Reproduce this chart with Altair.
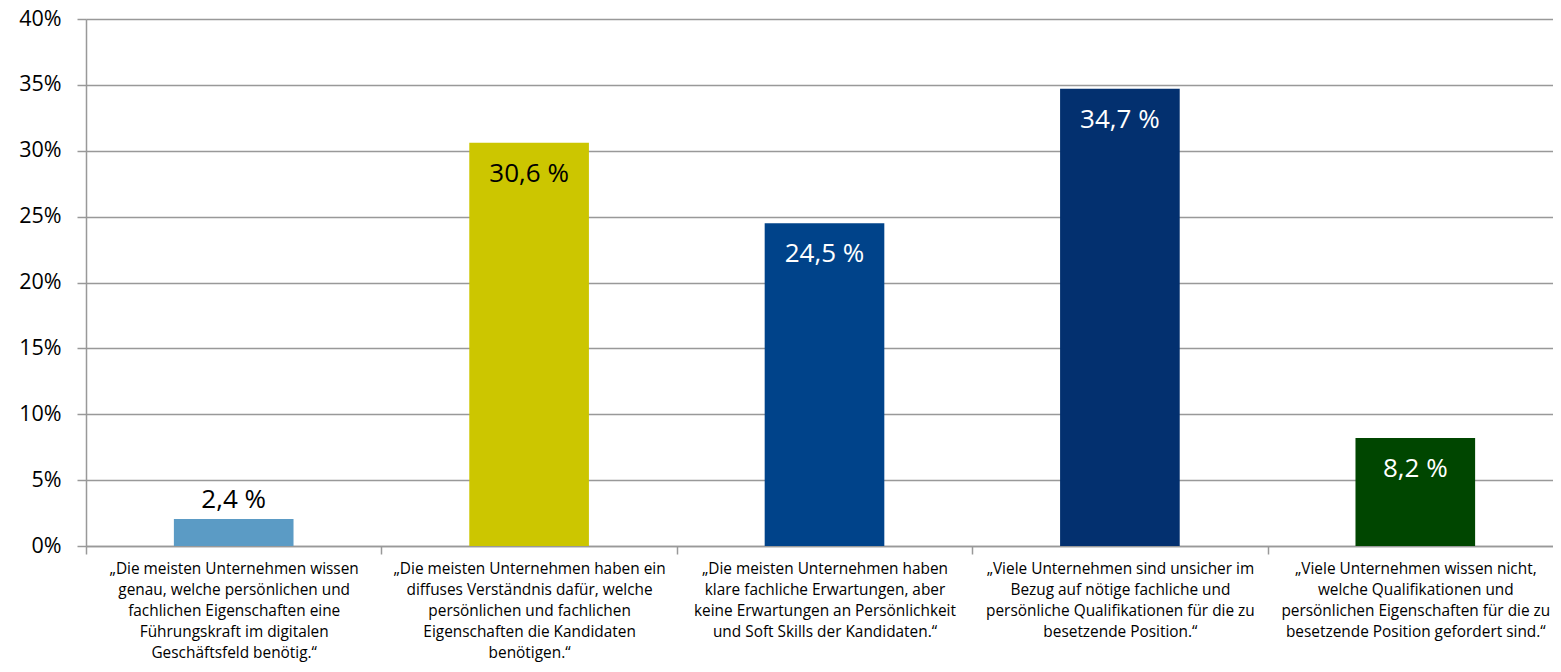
import altair as alt
import pandas as pd

categories = [
    "„Die meisten Unternehmen wissen|genau, welche persönlichen und|fachlichen Eigenschaften eine|Führungskraft im digitalen|Geschäftsfeld benötig.“",
    "„Die meisten Unternehmen haben ein|diffuses Verständnis dafür, welche|persönlichen und fachlichen|Eigenschaften die Kandidaten|benötigen.“",
    "„Die meisten Unternehmen haben|klare fachliche Erwartungen, aber|keine Erwartungen an Persönlichkeit|und Soft Skills der Kandidaten.“",
    "„Viele Unternehmen sind unsicher im|Bezug auf nötige fachliche und|persönliche Qualifikationen für die zu|besetzende Position.“",
    "„Viele Unternehmen wissen nicht,|welche Qualifikationen und|persönlichen Eigenschaften für die zu|besetzende Position gefordert sind.“",
]
values = [2.05, 30.6, 24.5, 34.7, 8.2]
value_labels = ["2,4 %", "30,6 %", "24,5 %", "34,7 %", "8,2 %"]
bar_colors = ["#5B9BC5", "#CCC600", "#00438A", "#03306F", "#004600"]
label_colors = ["#000000", "#000000", "#FFFFFF", "#FFFFFF", "#FFFFFF"]
y_ticks = [0, 5, 10, 15, 20, 25, 30, 35, 40]

df = pd.DataFrame({
    "cat": categories,
    "value": values,
    "label": value_labels,
    "bar_color": bar_colors,
    "label_color": label_colors,
})

FONT = "Open Sans"

x_scale = alt.Scale(paddingInner=0, paddingOuter=0, range=[0, 1477])

x_enc = alt.X(
    "cat:N",
    sort=categories,
    title=None,
    scale=x_scale,
    axis=alt.Axis(
        tickBand="extent",
        labelExpr="split(datum.label, '|')",
        labelAngle=0,
        labelFont=FONT,
        labelFontSize=15.4,
        labelColor="#000000",
        labelLineHeight=21,
        labelLimit=400,
        labelOverlap=False,
        labelPadding=7,
        tickSize=8,
        tickColor="#999999",
        tickWidth=1.5,
        domainColor="#999999",
        domainWidth=1.5,
        grid=False,
    ),
)
y_enc = alt.Y(
    "value:Q",
    title=None,
    scale=alt.Scale(domain=[0, 40], nice=False),
    axis=alt.Axis(
        values=y_ticks,
        labelExpr="datum.value + '%'",
        labelFont=FONT,
        labelFontSize=21.5,
        labelColor="#000000",
        labelPadding=16,
        tickSize=9,
        tickColor="#999999",
        tickWidth=1.5,
        domainColor="#999999",
        domainWidth=1.5,
        grid=True,
        gridColor="#999999",
        gridWidth=1.5,
    ),
)

bars = alt.Chart(df).mark_bar(width=alt.RelativeBandSize(0.405)).encode(
    x=x_enc,
    y=y_enc,
    color=alt.Color("bar_color:N", scale=None),
)

inside = alt.Chart(df).transform_filter("datum.value > 5").mark_text(
    font=FONT, fontSize=26, baseline="alphabetic", dy=39
).encode(
    x=alt.X("cat:N", sort=categories),
    y="value:Q",
    text="label:N",
    color=alt.Color("label_color:N", scale=None),
)

above = alt.Chart(df).transform_filter("datum.value <= 5").mark_text(
    font=FONT, fontSize=26, baseline="alphabetic", dy=-11
).encode(
    x=alt.X("cat:N", sort=categories),
    y="value:Q",
    text="label:N",
    color=alt.Color("label_color:N", scale=None),
)

chart = alt.layer(bars, inside, above).properties(
    width=1467,
    height=527,
    autosize=alt.AutoSizeParams(type="none"),
    padding={"left": 78, "top": 11, "right": 0, "bottom": 118},
).configure_view(stroke=None).configure(background="white")

chart.save("out.html", embed_options={"renderer": "svg", "actions": False})
